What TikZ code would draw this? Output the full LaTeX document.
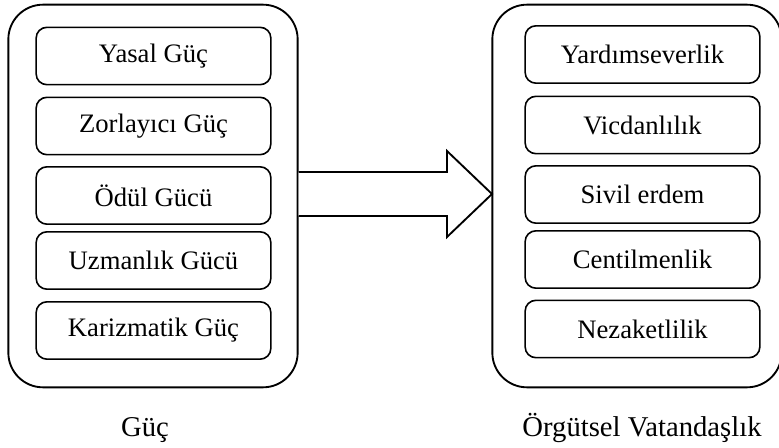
\documentclass[tikz,border=0pt]{standalone}
\usepackage{fontspec}
\setmainfont{Liberation Serif}
\begin{document}
\begin{tikzpicture}[x=0.75pt,y=-0.75pt,
  outerbox/.style={draw, line width=1.4pt, rounded corners=26pt, minimum width=217pt, minimum height=287pt, inner sep=0pt},
  itembox/.style={draw, line width=1.2pt, rounded corners=8pt, minimum width=176pt, minimum height=43pt, inner sep=0pt, font=\fontsize{20pt}{24pt}\selectfont},
  caption/.style={font=\fontsize{21.5pt}{26pt}\selectfont, inner sep=0pt, anchor=base},
  bigarrow/.style={draw, fill=white, line width=1.4pt, line join=miter}]
\useasboundingbox (0,0) rectangle (779,448);

% two containers
\node[outerbox] (lbox) at (153,196) {};
\node[outerbox] (rbox) at (637,196) {};

% power types
\node[itembox] (l1) at (153.5,56)  {Yasal Güç};
\node[itembox] (l2) at (153.5,126) {Zorlayıcı Güç};
\node[itembox] (l3) at (153.5,195.5) {Ödül Gücü};
\node[itembox] (l4) at (153.5,260.5) {Uzmanlık Gücü};
\node[itembox] (l5) at (153.5,330.5) {Karizmatik Güç};

% citizenship dimensions
\node[itembox] (r1) at (642.5,54.5)  {Yardımseverlik};
\node[itembox] (r2) at (642.5,125)   {Vicdanlılık};
\node[itembox] (r3) at (642.5,194.5) {Sivil erdem};
\node[itembox] (r4) at (642.5,259.5) {Centilmenlik};
\node[itembox] (r5) at (642.5,329)   {Nezaketlilik};

% block arrow from left container to right container
\coordinate (a1) at (lbox.east |- 0,172);
\coordinate (a2) at (447,172);
\coordinate (a3) at (447,151);
\coordinate (tip) at (492,194);
\coordinate (a5) at (447,237);
\coordinate (a6) at (447,216);
\coordinate (a7) at (lbox.east |- 0,216);
\draw[bigarrow] (a1) -- (a2) -- (a3) -- (tip) -- (a5) -- (a6) -- (a7);

% captions
\node[caption] (cl) at (145,437) {Güç};
\node[caption] (cr) at (642,437) {Örgütsel Vatandaşlık};
\end{tikzpicture}
\end{document}
